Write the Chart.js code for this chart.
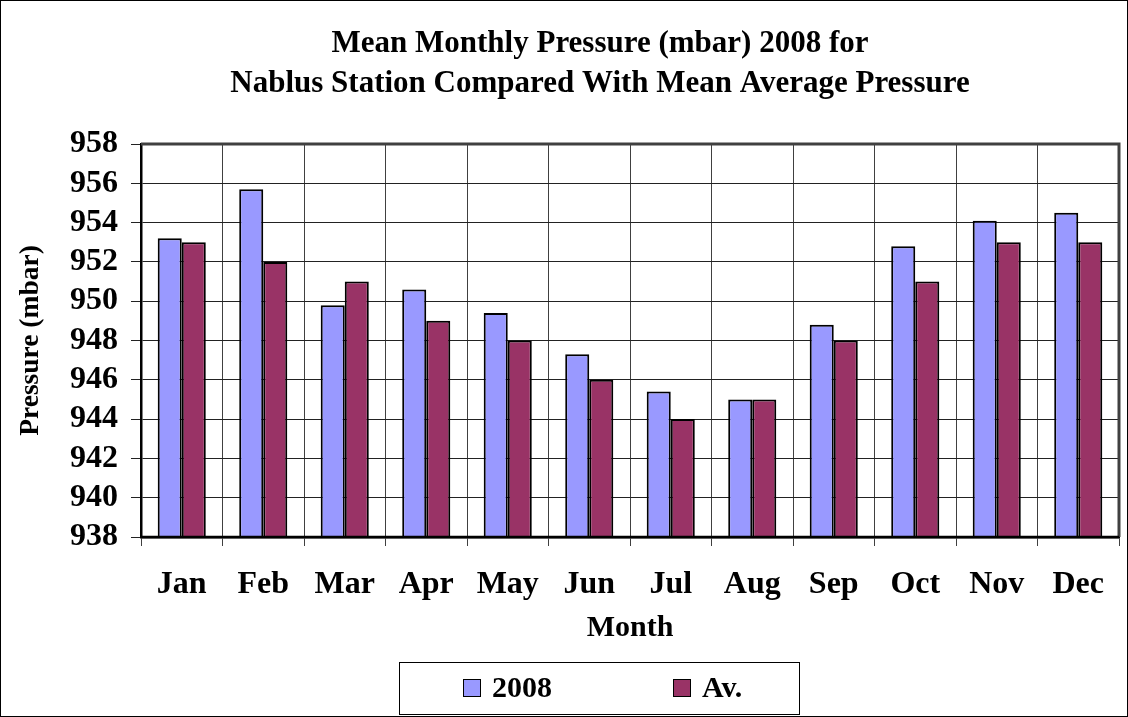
<!DOCTYPE html>
<html>
<head>
<meta charset="utf-8">
<script src="https://cdn.jsdelivr.net/npm/chart.js@4"></script>
<style>
  body { margin: 0; background: #fff; }
  #wrap { width: 1128px; height: 717px; box-sizing: border-box; border: 1px solid #000; }
</style>
</head>
<body>
<div id="wrap"><canvas id="PressureChart" width="1126" height="715"></canvas></div>
<script>
// values
const months = ["Jan", "Feb", "Mar", "Apr", "May", "Jun", "Jul", "Aug", "Sep", "Oct", "Nov", "Dec"]
const pressure2008 = [953.2, 955.7, 949.8, 950.6, 949.4, 947.3, 945.4, 945.0, 948.8, 952.8, 954.1, 954.5]
const pressureAv = [953, 952, 951, 949, 948, 946, 944, 945, 948, 951, 953, 953]
const titleLines = ["Mean Monthly Pressure (mbar) 2008 for", "Nablus Station Compared With Mean Average Pressure"]

const serif = "'Liberation Serif', 'Times New Roman', serif"

// thick frame on the top and right of the plot, like the excel original
const plotFrame = {
      id: "plotFrame",
      afterLayout(chart) {
            // the title in the original sits a bit right of the page centre
            chart.titleBlock.left += 40
            chart.titleBlock.right += 40
      },
      afterDatasetsDraw(chart) {
            const {ctx, chartArea: a} = chart
            ctx.save()
            ctx.strokeStyle = "#404040"
            ctx.lineWidth = 3
            ctx.beginPath()
            ctx.moveTo(a.left, a.top)
            ctx.lineTo(a.right, a.top)
            ctx.lineTo(a.right, a.bottom)
            ctx.stroke()
            // bottom axis line over the bar feet
            ctx.strokeStyle = "#000"
            ctx.lineWidth = 2.5
            ctx.beginPath()
            ctx.moveTo(a.left, a.bottom)
            ctx.lineTo(a.right, a.bottom)
            ctx.stroke()
            ctx.restore()
      }
}

// boxed legend under the axis title
const boxLegend = {
      id: "boxLegend",
      afterDraw(chart) {
            const ctx = chart.ctx
            const cx = 598, top = 661, w = 400, h = 52
            ctx.save()
            ctx.strokeStyle = "#000"
            ctx.lineWidth = 1
            ctx.strokeRect(cx - w / 2 + 0.5, top + 0.5, w, h)
            ctx.font = "bold 30px " + serif
            ctx.textBaseline = "middle"
            const starts = [cx - 136, cx + 74]
            chart.data.datasets.forEach((ds, i) => {
                  const x = starts[i], y = top + h / 2
                  ctx.fillStyle = ds.backgroundColor
                  ctx.fillRect(x, y - 9, 18, 18)
                  ctx.strokeStyle = "#000"
                  ctx.lineWidth = 1
                  ctx.strokeRect(x + 0.5, y - 8.5, 17, 17)
                  ctx.fillStyle = "#000"
                  ctx.fillText(ds.label, x + 29, y + 1)
            })
            ctx.restore()
      }
}

new Chart("PressureChart", {
      type: "bar",
      data: {
            labels: months,
            datasets: [
                  {label: "2008", data: pressure2008, backgroundColor: "#9999FF", borderColor: "#000", borderWidth: 2, borderSkipped: "bottom"},
                  {label: "Av.", data: pressureAv, backgroundColor: "#993366", borderColor: "#000", borderWidth: 2, borderSkipped: "bottom"}
            ]
      },
      options: {
            responsive: false,
            animation: false,
            layout: {padding: {left: 0, right: 8, top: 0, bottom: 68}},
            datasets: {bar: {categoryPercentage: 0.59, barPercentage: 1.0}},
            plugins: {
                  legend: {display: false},
                  tooltip: {enabled: false},
                  title: {
                        display: true,
                        text: titleLines,
                        color: "#000",
                        font: {family: serif, size: 31, weight: "bold", lineHeight: 40 / 31},
                        padding: {top: 23, bottom: 40}
                  }
            },
            scales: {
                  x: {
                        afterFit(scale) { scale.height = 111 },
                        grid: {offset: true, color: "#404040", lineWidth: 1, tickLength: 9, drawTicks: true},
                        border: {color: "#000", width: 2.5},
                        ticks: {color: "#000", font: {family: serif, size: 32, weight: "bold"}, padding: 20},
                        title: {display: true, text: "Month", color: "#000", font: {family: serif, size: 30, weight: "bold"}, padding: {top: 0, bottom: 2}}
                  },
                  y: {
                        min: 938,
                        max: 958,
                        afterFit(scale) { scale.width = 140 },
                        grid: {color: "#222", lineWidth: 1, tickLength: 10},
                        border: {color: "#000", width: 2.5},
                        ticks: {stepSize: 2, autoSkip: false, color: "#000", font: {family: serif, size: 32, weight: "bold", lineHeight: 1}, padding: 13},
                        title: {display: true, text: "Pressure (mbar)", color: "#000", font: {family: serif, size: 27.5, weight: "bold"}, padding: {top: 13, bottom: 0}}
                  }
            }
      },
      plugins: [plotFrame, boxLegend]
})
</script>
</body>
</html>
